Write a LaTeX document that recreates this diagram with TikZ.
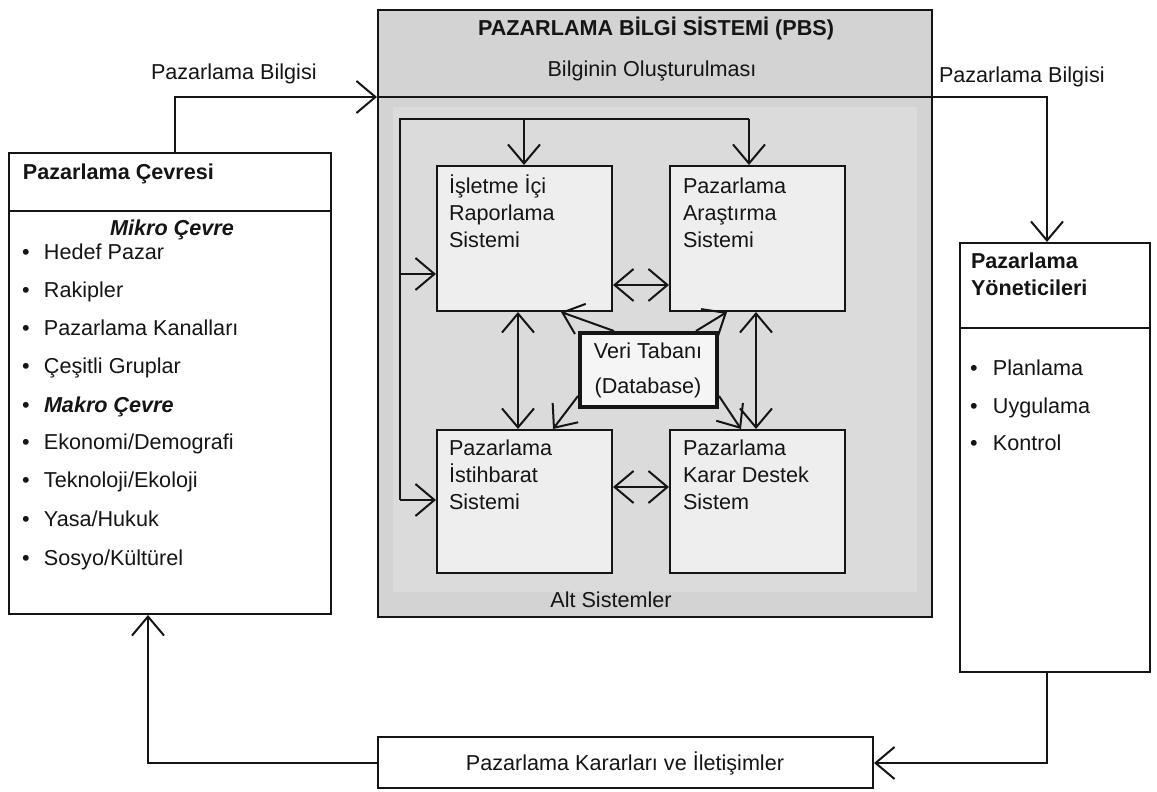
\documentclass[tikz,border=0pt]{standalone}
\usepackage{fontspec}
\setmainfont{Liberation Sans}
\usetikzlibrary{arrows.meta}
\definecolor{pbsgray}{HTML}{D3D3D3}
\definecolor{innergray}{HTML}{DBDBDB}
\definecolor{boxgray}{HTML}{EEEEEE}
\definecolor{ink}{HTML}{151515}
\begin{document}
\begin{tikzpicture}[x=1pt,y=-1pt,
  line width=2pt,
  >={Straight Barb[length=19pt,width=32pt,line width=2pt]},
  conn/.style={draw=ink,line width=2pt},
  frame/.style={draw=ink,line width=2pt,inner sep=0pt,rectangle},
  sub/.style={frame,fill=boxgray,minimum width=175pt,minimum height=145pt},
  txt/.style={inner sep=0pt,anchor=base west,font=\fontsize{21.6}{26}\selectfont,text=ink},
  ctxt/.style={txt,anchor=base},
  btxt/.style={txt,font=\fontsize{21.6}{26}\selectfont\bfseries},
  bul/.style={txt},
]
\useasboundingbox (0,0) rectangle (1157,792);
\fill[white] (0,0) rectangle (1157,792);

% PBS container
\node[frame,fill=pbsgray,minimum width=554pt,minimum height=607pt] (pbs) at (655,313.5) {};
\fill[innergray] (393,107) rectangle (917,592);

% Side boxes
\node[frame,fill=white,minimum width=322pt,minimum height=461pt] (cev) at (170,383.5) {};
\node[frame,fill=white,minimum width=190pt,minimum height=429pt] (yon) at (1055,457.5) {};
\node[frame,fill=white,minimum width=495pt,minimum height=51pt] (kar) at (625.5,762.5) {};
\draw[conn] (cev.west |- 0,211) -- (cev.east |- 0,211);
\draw[conn] (yon.west |- 0,328) -- (yon.east |- 0,328);

% Subsystems
\node[sub] (b1) at (524.5,238.5) {};
\node[sub] (b2) at (757.5,238.5) {};
\node[sub,minimum height=143pt] (b3) at (524.5,501.5) {};
\node[sub,minimum height=143pt] (b4) at (757.5,501.5) {};
\node[frame,fill=boxgray!60!white,line width=4pt,minimum width=137pt,minimum height=74pt] (db) at (648.5,370) {};

% Main information flow
\coordinate (inL) at (175,97);
\coordinate (outR) at (1047,97);
\draw[conn,->] (cev.north -| inL) -- (inL) -- (pbs.west |- inL);
\draw[conn,->] (pbs.west |- inL) -- (outR) -- (yon.north -| outR);

% Feedback
\coordinate (fbR) at (1047,763);
\coordinate (fbL) at (148,763);
\draw[conn,->] (yon.south -| fbR) -- (fbR) -- (kar.east |- fbR);
\draw[conn,->] (kar.west |- fbL) -- (fbL) -- (cev.south -| fbL);

% Internal loop
\coordinate (lpTL) at (400,119);
\coordinate (lpBL) at (400,500);
\coordinate (lpB1) at (524,119);
\coordinate (lpB2) at (749,119);
\coordinate (lpM) at (400,274);
\draw[conn] (lpBL) -- (lpTL) -- (lpB2);
\draw[conn,->] (lpB1) -- (b1.north -| lpB1);
\draw[conn,->] (lpB2) -- (b2.north -| lpB2);
\draw[conn,->] (lpM) -- (b1.west |- lpM);
\draw[conn,->] (lpBL) -- (b3.west |- lpBL);

% Between subsystems
\draw[conn,<->] (b1.east |- 0,285) -- (b2.west |- 0,285);
\draw[conn,<->] (b3.east |- 0,487) -- (b4.west |- 0,487);
\draw[conn,<->] (b1.south -| 518,0) -- (b3.north -| 518,0);
\draw[conn,<->] (b2.south -| 756,0) -- (b4.north -| 756,0);

% Database links
\draw[conn,->] (db.north -| 614,0) -- (b1.south -| 561,0);
\draw[conn,->] (db.north -| 696,0) -- (b2.south -| 727,0);
\draw[conn,->] (db.west |- 0,396) -- (b3.north -| 553,0);
\draw[conn,->] (db.east |- 0,396) -- (b4.north -| 741,0);

% Texts: PBS
\node[btxt,anchor=base] (tPBS) at (656,36) {PAZARLAMA BİLGİ SİSTEMİ (PBS)};
\node[ctxt] (tOlus) at (652,77) {Bilginin Oluşturulması};
\node[ctxt] (tAlt) at (611,607) {Alt Sistemler};
\node[txt] (tPBl) at (150,80) {Pazarlama Bilgisi};
\node[txt] (tPBr) at (938,82) {Pazarlama Bilgisi};

\node[txt] (t1a) at (448,193) {İşletme İçi};
\node[txt] (t1b) at (448,220) {Raporlama};
\node[txt] (t1c) at (448,247) {Sistemi};
\node[txt] (t2a) at (682,193) {Pazarlama};
\node[txt] (t2b) at (682,220) {Araştırma};
\node[txt] (t2c) at (682,247) {Sistemi};
\node[txt] (t3a) at (448,455) {Pazarlama};
\node[txt] (t3b) at (448,482) {İstihbarat};
\node[txt] (t3c) at (448,509) {Sistemi};
\node[txt] (t4a) at (682,455) {Pazarlama};
\node[txt] (t4b) at (682,482) {Karar Destek};
\node[txt] (t4c) at (682,509) {Sistem};
\node[ctxt] (tdb1) at (648,358) {Veri Tabanı};
\node[ctxt] (tdb2) at (648,393) {(Database)};

% Left box texts
\node[btxt] (tCev) at (22,179) {Pazarlama Çevresi};
\node[btxt,anchor=base,font=\fontsize{21.6}{26}\selectfont\bfseries\itshape] (tMik) at (172,235) {Mikro Çevre};
\node[bul] (c1) at (21,259) {\makebox[22pt][l]{•}Hedef Pazar};
\node[bul] (c2) at (21,297) {\makebox[22pt][l]{•}Rakipler};
\node[bul] (c3) at (21,335) {\makebox[22pt][l]{•}Pazarlama Kanalları};
\node[bul] (c4) at (21,373) {\makebox[22pt][l]{•}Çeşitli Gruplar};
\node[bul] (c5) at (21,412) {\makebox[22pt][l]{•}\textbf{\textit{Makro Çevre}}};
\node[bul] (c6) at (21,449) {\makebox[22pt][l]{•}Ekonomi/Demografi};
\node[bul] (c7) at (21,487) {\makebox[22pt][l]{•}Teknoloji/Ekoloji};
\node[bul] (c8) at (21,526) {\makebox[22pt][l]{•}Yasa/Hukuk};
\node[bul] (c9) at (21,565) {\makebox[22pt][l]{•}Sosyo/Kültürel};

% Right box texts
\node[btxt] (tY1) at (970,268) {Pazarlama};
\node[btxt] (tY2) at (970,295) {Yöneticileri};
\node[bul] (y1) at (969,375) {\makebox[23pt][l]{•}Planlama};
\node[bul] (y2) at (969,413) {\makebox[23pt][l]{•}Uygulama};
\node[bul] (y3) at (969,450) {\makebox[23pt][l]{•}Kontrol};

% Bottom box text
\node[ctxt] (tKar) at (625,770) {Pazarlama Kararları ve İletişimler};
\end{tikzpicture}
\end{document}
